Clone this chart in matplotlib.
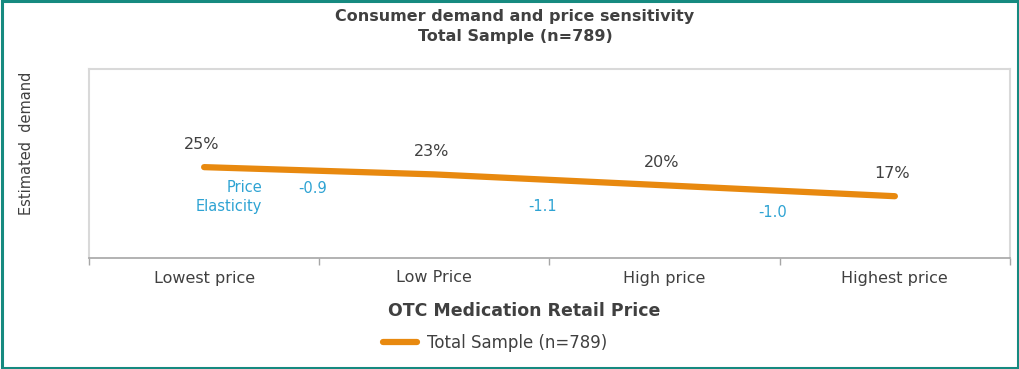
import matplotlib
matplotlib.use("Agg")
import matplotlib.pyplot as plt
from matplotlib.patches import Rectangle
from matplotlib.lines import Line2D

categories = ["Lowest price", "Low Price", "High price", "Highest price"]
demand = [25, 23, 20, 17]
demand_labels = ["25%", "23%", "20%", "17%"]
elasticity = ["-0.9", "-1.1", "-1.0"]
series_name = "Total Sample (n=789)"

ORANGE = "#E8890F"
BLUE = "#2EA3D3"
DARK = "#404040"
TEAL = "#168A80"

plt.rcParams['font.family'] = ['DejaVu Sans']

fig = plt.figure(figsize=(10.2, 3.69), dpi=100)
ax = fig.add_axes([89/1020, 1-258/369, (1010-89)/1020, (258-69)/369])

x = list(range(len(categories)))
ax.plot(x, demand, color=ORANGE, lw=4.5, solid_capstyle='round')
ax.set_xlim(-0.5, len(categories) - 0.5)
ax.set_ylim(0, 52)

for xi, yi, lab in zip(x, demand, demand_labels):
    ax.annotate(lab, (xi, yi), xytext=(-2, 11), textcoords='offset points',
                ha='center', va='bottom', fontsize=11.5, color=DARK)

el_offsets = [-13, -19, -16]
for i, (lab, off) in enumerate(zip(elasticity, el_offsets)):
    xm = i + 0.5
    ym = (demand[i] + demand[i + 1]) / 2
    ax.annotate(lab, (xm - 0.03, ym), xytext=(0, off), textcoords='offset points',
                ha='center', va='center', fontsize=10.5, color=BLUE)

ax.annotate("Price\nElasticity", (0.5, (demand[0] + demand[1]) / 2), xytext=(-41, -19),
            textcoords='offset points', ha='right', va='center', fontsize=10.5,
            color=BLUE, linespacing=1.35, multialignment='right')

# frame
for s in ['left', 'top', 'right']:
    ax.spines[s].set_color('#D9D9D9')
    ax.spines[s].set_linewidth(1.5)
ax.spines['bottom'].set_color('#A6A6A6')
ax.spines['bottom'].set_linewidth(1.2)
ax.set_yticks([])
ax.set_xticks([i - 0.5 for i in range(len(categories) + 1)], minor=False)
ax.set_xticklabels([])
ax.tick_params(axis='x', which='major', length=5, color='#A6A6A6', width=1)
ax.set_xticks(x, minor=True)
ax.set_xticklabels(categories, minor=True)
ax.tick_params(axis='x', which='minor', length=0, pad=9, labelsize=11.5, labelcolor=DARK)

ax.set_xlabel("OTC Medication Retail Price", fontsize=12.5, fontweight='bold',
              color=DARK)
ax.xaxis.set_label_coords((524 - 89) / 921, -(311 - 258) / 189)
ax.xaxis.label.set_va('center')
fig.text(27/1020, 1-143/369, "Estimated  demand", rotation=90, ha='center', va='center',
         fontsize=10.5, color=DARK)

fig.text(515/1020, 1-16/369, "Consumer demand and price sensitivity", ha='center',
         va='center', fontsize=11.5, fontweight='bold', color=DARK)
fig.text(515/1020, 1-37/369, "Total Sample (n=789)", ha='center', va='center',
         fontsize=11.5, fontweight='bold', color=DARK)

handle = Line2D([], [], color=ORANGE, lw=4.5, solid_capstyle='round')
fig.legend([handle], [series_name], loc='center', bbox_to_anchor=(495/1020, 1-343/369),
           frameon=False, fontsize=12, labelcolor=DARK, handlelength=2.0, handletextpad=0.6)

fig.add_artist(Rectangle((0.0015, 0.003), 0.997, 0.994, transform=fig.transFigure,
                         fill=False, edgecolor=TEAL, lw=2.2))

fig.savefig("out.png", dpi=100)
